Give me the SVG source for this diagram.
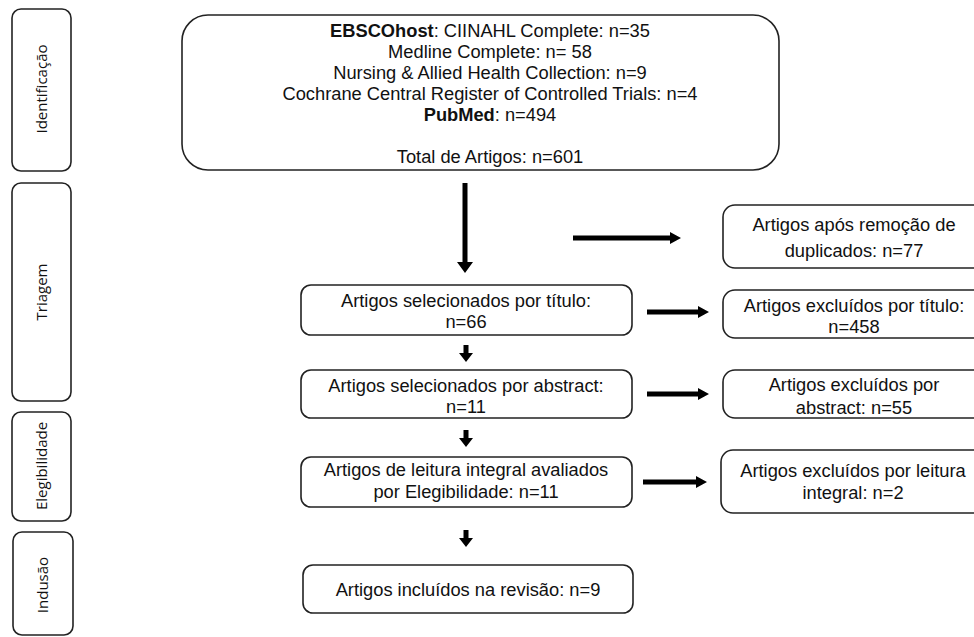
<svg xmlns="http://www.w3.org/2000/svg" width="974" height="637" viewBox="0 0 974 637">
<style>
.box{fill:#fff;stroke:#222;stroke-width:1.6}
.t{font-family:"Liberation Sans",Arial,sans-serif;font-size:18.3px;fill:#111;text-anchor:middle}
.lbl{font-family:"Open Sans","Liberation Sans",sans-serif;font-size:15px;fill:#111;text-anchor:middle}
.b{font-weight:bold}
.arr{fill:#000}
</style>
<rect width="974" height="637" fill="#fff"/>
<g id="stage-identificacao">
<rect class="box" x="12" y="9" width="59" height="162" rx="9"/>
<text class="lbl" transform="translate(47,89) rotate(-90)">Identificação</text>
</g>
<g id="stage-triagem">
<rect class="box" x="12" y="183" width="59" height="218" rx="9"/>
<text class="lbl" transform="translate(47,292) rotate(-90)">Triagem</text>
</g>
<g id="stage-elegibilidade">
<rect class="box" x="12" y="412" width="59" height="109" rx="9"/>
<text class="lbl" transform="translate(47,466) rotate(-90)">Elegibilidade</text>
</g>
<g id="stage-inclusao">
<rect class="box" x="13" y="532" width="60" height="103" rx="9"/>
<text class="lbl" transform="translate(48,585) rotate(-90)">Indusão</text>
</g>
<g id="identification">
<rect class="box" x="182" y="15" width="597" height="155" rx="26"/>
<text class="t" x="490" y="37"><tspan class="b">EBSCOhost</tspan>: CIINAHL Complete: n=35</text>
<text class="t" x="490" y="58">Medline Complete: n= 58</text>
<text class="t" x="490" y="79">Nursing &amp; Allied Health Collection: n=9</text>
<text class="t" x="490" y="100">Cochrane Central Register of Controlled Trials: n=4</text>
<text class="t" x="490" y="121"><tspan class="b">PubMed</tspan>: n=494</text>
<text class="t" x="490" y="163">Total de Artigos: n=601</text>
</g>
<g id="duplicates">
<rect class="box" x="723" y="205" width="262" height="63" rx="12"/>
<text class="t" x="854" y="231">Artigos após remoção de</text>
<text class="t" x="854" y="257">duplicados: n=77</text>
</g>
<g id="sel-title">
<rect class="box" x="301" y="285" width="331" height="50" rx="10"/>
<text class="t" x="466" y="307">Artigos selecionados por título:</text>
<text class="t" x="466" y="328">n=66</text>
</g>
<g id="exc-title">
<rect class="box" x="723" y="290" width="262" height="48" rx="12"/>
<text class="t" x="854" y="312">Artigos excluídos por título:</text>
<text class="t" x="854" y="333">n=458</text>
</g>
<g id="sel-abstract">
<rect class="box" x="301" y="370" width="331" height="48" rx="10"/>
<text class="t" x="466" y="392">Artigos selecionados por abstract:</text>
<text class="t" x="466" y="413">n=11</text>
</g>
<g id="exc-abstract">
<rect class="box" x="723" y="370" width="262" height="48" rx="12"/>
<text class="t" x="854" y="391">Artigos excluídos por</text>
<text class="t" x="854" y="414">abstract: n=55</text>
</g>
<g id="full-text">
<rect class="box" x="301" y="457" width="331" height="50" rx="10"/>
<text class="t" x="466" y="476">Artigos de leitura integral avaliados</text>
<text class="t" x="466" y="498">por Elegibilidade: n=11</text>
</g>
<g id="exc-full">
<rect class="box" x="721" y="450" width="264" height="63" rx="12"/>
<text class="t" x="853" y="477">Artigos excluídos por leitura</text>
<text class="t" x="853" y="499">integral: n=2</text>
</g>
<g id="included">
<rect class="box" x="303" y="565" width="330" height="48" rx="10"/>
<text class="t" x="468" y="596">Artigos incluídos na revisão: n=9</text>
</g>
<g id="connectors">
<path class="arr" d="M462.5,183 H467.5 V262 H473 L465,273 L457,262 H462.5 Z"/>
<path class="arr" d="M573,235.5 H670 V232 L681,238 L670,244 V240.5 H573 Z"/>
<path class="arr" d="M647,309.5 H698 V306 L709,312 L698,318 V314.5 H647 Z"/>
<path class="arr" d="M647,391.5 H698 V388 L709,394 L698,400 V396.5 H647 Z"/>
<path class="arr" d="M643,479.5 H696 V476 L707,482 L696,488 V484.5 H643 Z"/>
<path class="arr" d="M463.5,345 H468.5 V353 H473 L466,362 L459,353 H463.5 Z"/>
<path class="arr" d="M463.5,430 H468.5 V438 H473 L466,447 L459,438 H463.5 Z"/>
<path class="arr" d="M463.5,530 H468.5 V538 H473 L466,547 L459,538 H463.5 Z"/>
</g>
</svg>
